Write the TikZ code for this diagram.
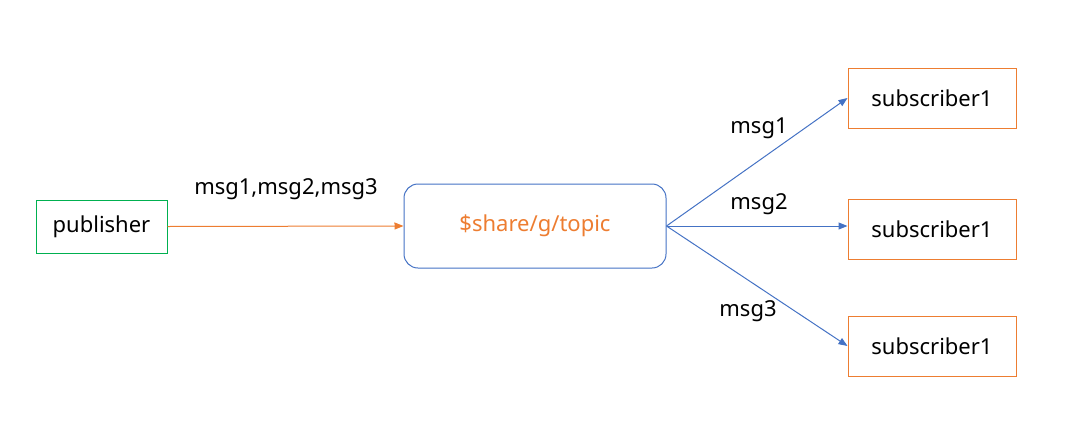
\documentclass[tikz,border=0pt]{standalone}
\usepackage{fontspec}
\setmainfont{Noto Sans}
\usetikzlibrary{arrows.meta}
\definecolor{orng}{HTML}{ED7D31}
\definecolor{blu}{HTML}{4472C4}
\definecolor{grn}{HTML}{00B050}
\tikzset{
  txt/.style={font=\fontsize{22}{26}\selectfont},
  pubbox/.style={draw=grn, line width=1pt, minimum width=131pt, minimum height=53pt, inner sep=0pt, txt},
  topicbox/.style={draw=blu, line width=1pt, rounded corners=14pt, minimum width=262pt, minimum height=84pt, inner sep=0pt, txt, text=orng},
  subbox/.style={draw=orng, line width=1pt, minimum width=168pt, minimum height=60pt, inner sep=0pt, txt},
  lbl/.style={txt, inner sep=0pt},
  orarrow/.style={draw=orng, line width=1pt, -{Triangle[length=9pt,width=7pt]}},
  blarrow/.style={draw=blu, line width=1pt, -{Triangle[length=9pt,width=7pt]}},
}
\begin{document}
\begin{tikzpicture}[x=1pt,y=-1pt]
\useasboundingbox (0,0) rectangle (1074,421);
\node[pubbox] (pub) at (101.5,226.5) {\raisebox{-2pt}{publisher}};
\node[topicbox] (topic) at (535,226) {\raisebox{-2pt}{\$share/g/topic}};
\node[subbox] (s1) at (932,98) {subscriber1};
\node[subbox] (s2) at (932,229) {subscriber1};
\node[subbox] (s3) at (932,346) {subscriber1};
\draw[orarrow] (pub.east) -- (topic.west);
\draw[blarrow] (topic.east) -- (s1.west);
\draw[blarrow] (topic.east) -- (s2.west |- topic.east);
\draw[blarrow] (topic.east) -- (s3.west);
\node[lbl] (l0) at (286,189) {msg1,msg2,msg3};
\node[lbl] (l1) at (759,128) {msg1};
\node[lbl] (l2) at (759,204) {msg2};
\node[lbl] (l3) at (748,311) {msg3};
\end{tikzpicture}
\end{document}
